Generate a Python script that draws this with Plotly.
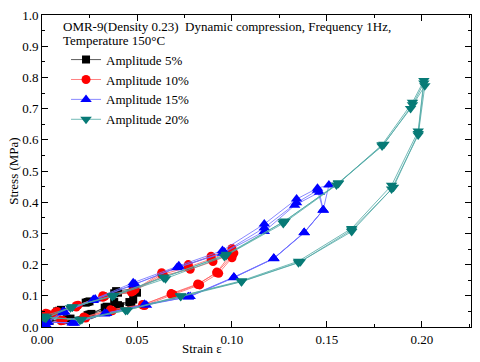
import plotly.graph_objects as go

# Amplitude 5% (three loading/unloading cycles, concatenated)
amp5_x = [0.000, 0.009, 0.024, 0.039, 0.049, 0.048, 0.040, 0.033, 0.025, 0.013, 0.003,
          0.003, 0.010, 0.025, 0.040, 0.048, 0.047, 0.038, 0.034, 0.024, 0.014, 0.002,
          0.002, 0.008, 0.023, 0.038, 0.050, 0.046, 0.041, 0.035, 0.026, 0.015, 0.004]
amp5_y = [0.020, 0.052, 0.080, 0.115, 0.123, 0.088, 0.070, 0.062, 0.040, 0.025, 0.020,
          0.022, 0.055, 0.082, 0.110, 0.118, 0.075, 0.080, 0.065, 0.038, 0.022, 0.018,
          0.025, 0.050, 0.078, 0.108, 0.110, 0.080, 0.066, 0.058, 0.042, 0.027, 0.020]

# Amplitude 10%
amp10_x = [0.002, 0.007, 0.018, 0.032, 0.049, 0.063, 0.077, 0.089, 0.100,
           0.100, 0.092, 0.082, 0.068, 0.053, 0.036, 0.022, 0.010, 0.001,
           0.002, 0.008, 0.019, 0.033, 0.048, 0.063, 0.077, 0.089, 0.100,
           0.099, 0.092, 0.082, 0.068, 0.053, 0.036, 0.022, 0.010, 0.002,
           0.003, 0.007, 0.018, 0.032, 0.047, 0.064, 0.078, 0.090, 0.101,
           0.100, 0.093, 0.083, 0.069, 0.054, 0.037, 0.023, 0.011, 0.002]
amp10_y = [0.040, 0.047, 0.068, 0.100, 0.120, 0.174, 0.200, 0.227, 0.252,
           0.227, 0.174, 0.138, 0.107, 0.070, 0.054, 0.030, 0.022, 0.006,
           0.044, 0.050, 0.070, 0.098, 0.115, 0.168, 0.192, 0.218, 0.244,
           0.230, 0.176, 0.136, 0.105, 0.072, 0.055, 0.032, 0.020, 0.010,
           0.042, 0.045, 0.064, 0.095, 0.112, 0.165, 0.185, 0.210, 0.237,
           0.222, 0.172, 0.135, 0.104, 0.069, 0.052, 0.029, 0.021, 0.008]

# Amplitude 15%
amp15_x = [0.000, 0.011, 0.027, 0.048, 0.072, 0.095, 0.117, 0.134, 0.145, 0.151,
           0.148, 0.138, 0.122, 0.101, 0.077, 0.054, 0.033, 0.016, 0.003,
           0.001, 0.012, 0.028, 0.049, 0.072, 0.096, 0.117, 0.134, 0.145,
           0.148, 0.138, 0.122, 0.101, 0.078, 0.055, 0.033, 0.016, 0.003,
           0.002, 0.011, 0.027, 0.048, 0.071, 0.095, 0.117, 0.133, 0.146,
           0.148, 0.138, 0.122, 0.101, 0.077, 0.054, 0.034, 0.017, 0.002]
amp15_y = [0.005, 0.050, 0.088, 0.142, 0.196, 0.245, 0.330, 0.410, 0.445, 0.455,
           0.375, 0.303, 0.220, 0.160, 0.097, 0.072, 0.042, 0.013, 0.016,
           0.010, 0.048, 0.090, 0.138, 0.192, 0.240, 0.318, 0.398, 0.438,
           0.375, 0.303, 0.220, 0.158, 0.098, 0.070, 0.044, 0.014, 0.015,
           0.008, 0.046, 0.085, 0.135, 0.190, 0.236, 0.306, 0.390, 0.432,
           0.375, 0.302, 0.219, 0.159, 0.096, 0.072, 0.043, 0.012, 0.016]

# Amplitude 20%
amp20_x = [0.002, 0.016, 0.037, 0.064, 0.097, 0.127, 0.156, 0.179, 0.195, 0.201,
           0.198, 0.184, 0.163, 0.135, 0.105, 0.073, 0.044, 0.020, 0.002,
           0.001, 0.015, 0.037, 0.065, 0.096, 0.127, 0.155, 0.179, 0.194, 0.2015,
           0.198, 0.184, 0.163, 0.135, 0.105, 0.073, 0.044, 0.020, 0.002,
           0.002, 0.016, 0.038, 0.064, 0.097, 0.128, 0.156, 0.180, 0.195, 0.201,
           0.198, 0.185, 0.163, 0.136, 0.105, 0.073, 0.045, 0.021, 0.001]
amp20_y = [0.030, 0.065, 0.100, 0.160, 0.230, 0.337, 0.460, 0.584, 0.720, 0.790,
           0.628, 0.454, 0.316, 0.211, 0.148, 0.100, 0.055, 0.025, 0.030,
           0.035, 0.062, 0.098, 0.155, 0.226, 0.332, 0.455, 0.580, 0.700, 0.773,
           0.615, 0.442, 0.306, 0.206, 0.145, 0.098, 0.053, 0.022, 0.032,
           0.028, 0.064, 0.102, 0.158, 0.233, 0.340, 0.462, 0.586, 0.712, 0.782,
           0.620, 0.448, 0.311, 0.209, 0.146, 0.099, 0.054, 0.024, 0.030]

FONT = "Liberation Serif"

series = [
    ("Amplitude 5%", amp5_x, amp5_y, "square", "#000000", "#333333", 8),
    ("Amplitude 10%", amp10_x, amp10_y, "circle", "#ff0000", "#ff6060", 9),
    ("Amplitude 15%", amp15_x, amp15_y, "triangle-up", "#0000ff", "#6b6bff", 10),
    ("Amplitude 20%", amp20_x, amp20_y, "triangle-down", "#077a76", "#4fa8a5", 10),
]

fig = go.Figure()
for name, xs, ys, sym, mcol, lcol, size in series:
    fig.add_trace(go.Scatter(
        x=xs, y=ys, name=name, mode="lines+markers",
        line=dict(color=lcol, width=0.8),
        marker=dict(symbol=sym, color=mcol, size=size, line=dict(width=0)),
    ))

axis_common = dict(
    showline=True, linecolor="black", linewidth=1, mirror="ticks",
    ticks="inside", ticklen=6, tickcolor="black", tickwidth=1,
    showgrid=False, zeroline=False,
    tickfont=dict(family=FONT, size=13, color="black"),
)

fig.update_xaxes(range=[0, 0.2258], tick0=0, dtick=0.05, tickformat=".2f",
                 minor=dict(ticks="inside", ticklen=3, dtick=0.025, tickcolor="black"),
                 **axis_common)
fig.update_yaxes(range=[0, 1.0], tick0=0, dtick=0.1, tickformat=".1f",
                 minor=dict(ticks="inside", ticklen=3, dtick=0.05, tickcolor="black"),
                 **axis_common)

fig.add_annotation(text="OMR-9(Density 0.23)  Dynamic compression, Frequency 1Hz,",
                   xref="paper", yref="paper", x=0.045, y=0.994, xanchor="left", yanchor="top",
                   showarrow=False, font=dict(family=FONT, size=13, color="black"))
fig.add_annotation(text="Temperature 150°C",
                   xref="paper", yref="paper", x=0.045, y=0.948, xanchor="left", yanchor="top",
                   showarrow=False, font=dict(family=FONT, size=13, color="black"))
fig.add_annotation(text="Strain ε", xref="paper", yref="paper", x=0.372, y=-0.07,
                   xanchor="center", yanchor="middle", showarrow=False,
                   font=dict(family=FONT, size=13, color="black"))
fig.add_annotation(text="Stress (MPa)", xref="paper", yref="paper", x=-0.068, y=0.5,
                   xanchor="center", yanchor="middle", textangle=-90, showarrow=False,
                   font=dict(family=FONT, size=13, color="black"))

fig.update_layout(
    width=480, height=362,
    font=dict(family=FONT, size=13, color="black"),
    margin=dict(l=42, r=8, t=10, b=35),
    paper_bgcolor="white", plot_bgcolor="white",
    showlegend=True,
    legend=dict(x=0.056, y=0.905, xanchor="left", yanchor="top",
                bgcolor="rgba(0,0,0,0)", borderwidth=0,
                font=dict(family=FONT, size=13, color="black"),
                itemwidth=30, tracegroupgap=0),
)

# the default page has an 8px body margin; remove it so the figure sits at 0,0
fig.write_html("out.html", config={"displayModeBar": False},
               post_script="document.body.style.margin='0';")
